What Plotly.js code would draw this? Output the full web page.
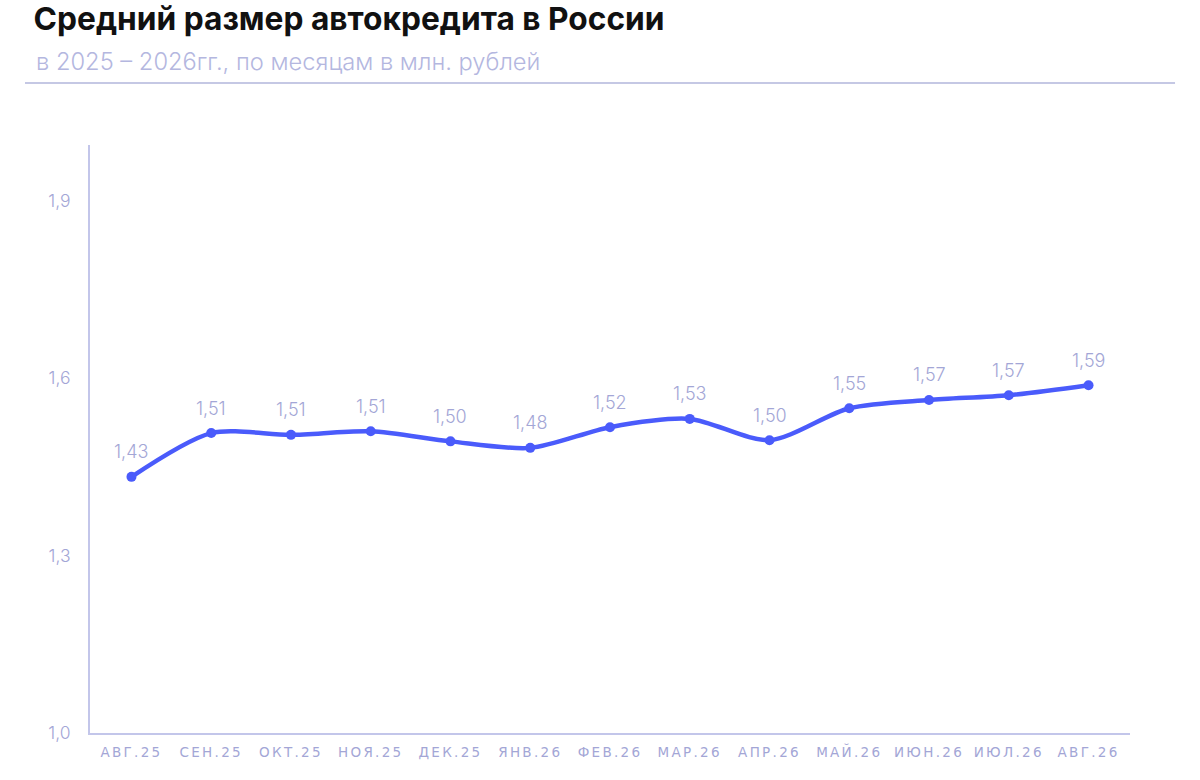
<!DOCTYPE html>
<html>
<head>
<meta charset="utf-8">
<script src="https://cdn.plot.ly/plotly-3.0.1.min.js"></script>
<style>
  html, body { margin: 0; padding: 0; background: #fff; }
  #chart { width: 1200px; height: 780px; }
  .xtick text { letter-spacing: 2.3px; }
</style>
</head>
<body>
<div id="chart"></div>
<script>
// months (x categories)
var months = ["АВГ.25", "СЕН.25", "ОКТ.25", "НОЯ.25", "ДЕК.25", "ЯНВ.26", "ФЕВ.26",
              "МАР.26", "АПР.26", "МАЙ.26", "ИЮН.26", "ИЮЛ.26", "АВГ.26"];

// average car loan, mln rub
var loanValues = [1.433, 1.507, 1.504, 1.510, 1.493, 1.482, 1.517,
                  1.531, 1.495, 1.549, 1.563, 1.571, 1.588];

// labels as printed on the chart
var loanLabels = ["1,43", "1,51", "1,51", "1,51", "1,50", "1,48", "1,52",
                  "1,53", "1,50", "1,55", "1,57", "1,57", "1,59"];

var yTickVals = [1.0, 1.3, 1.6, 1.9];
var yTickText = ["1,0", "1,3", "1,6", "1,9"];

var lineColor = "#4a5bfb";
var softColor = "#a3a6d6";
var axisColor = "#c3c6ea";

var trace = {
    type: "scatter",
    mode: "lines+markers",
    x: months.map(function (m, i) { return i; }),
    y: loanValues,
    line: { color: lineColor, width: 4.5, shape: "spline", smoothing: 0.8 },
    marker: { color: lineColor, size: 10 },
    hoverinfo: "skip"
};

// value labels above each point
var labelNotes = loanValues.map(function (v, i) {
    return {
        x: i, y: v, xref: "x", yref: "y",
        text: loanLabels[i], showarrow: false,
        yshift: 25,
        font: { family: "Inter, 'Open Sans', sans-serif", size: 18, color: softColor, weight: 300 }
    };
});

labelNotes.push({
    xref: "paper", yref: "paper", x: -0.0538, y: 1.1425,
    xanchor: "left", yanchor: "middle", showarrow: false,
    text: "в 2025 – 2026гг., по месяцам в млн. рублей",
    font: { family: "Inter, 'Open Sans', sans-serif", size: 23.7, color: "#b4b7df", weight: 300 }
});

var layout = {
    width: 1200,
    height: 780,
    paper_bgcolor: "#ffffff",
    plot_bgcolor: "#ffffff",
    showlegend: false,
    margin: { l: 90, r: 70, t: 145, b: 47 },
    title: {
        text: "<b>Средний размер автокредита в России</b>",
        font: { family: "Inter, 'Liberation Sans', sans-serif", size: 31.7, color: "#111111", weight: 800 },
        x: 0.028, xanchor: "left", xref: "container",
        y: 0.976, yanchor: "middle", yref: "container"
    },
    xaxis: {
        range: [-0.52, 12.52],
        tickvals: months.map(function (m, i) { return i; }),
        ticktext: months,
        showgrid: false,
        zeroline: false,
        showline: true,
        linecolor: axisColor,
        linewidth: 2,
        ticks: "",
        ticklabelstandoff: 6,
        tickfont: { family: "'DejaVu Sans', sans-serif", size: 13.5, color: softColor },
        fixedrange: true
    },
    yaxis: {
        range: [1.0, 1.994],
        tickvals: yTickVals,
        ticktext: yTickText,
        showgrid: false,
        zeroline: false,
        showline: true,
        linecolor: axisColor,
        linewidth: 2,
        ticks: "",
        ticklabelstandoff: 14,
        tickfont: { family: "Inter, 'Open Sans', sans-serif", size: 17.5, color: softColor, weight: 300 },
        fixedrange: true
    },
    shapes: [{
        type: "line", xref: "paper", yref: "paper",
        x0: -0.0625, x1: 1.0433, y0: 1.1054, y1: 1.1054,
        line: { color: "#c5c8e4", width: 2 }
    }],
    annotations: labelNotes
};

Plotly.newPlot("chart", [trace], layout, { displayModeBar: false, staticPlot: true });
</script>
</body>
</html>
